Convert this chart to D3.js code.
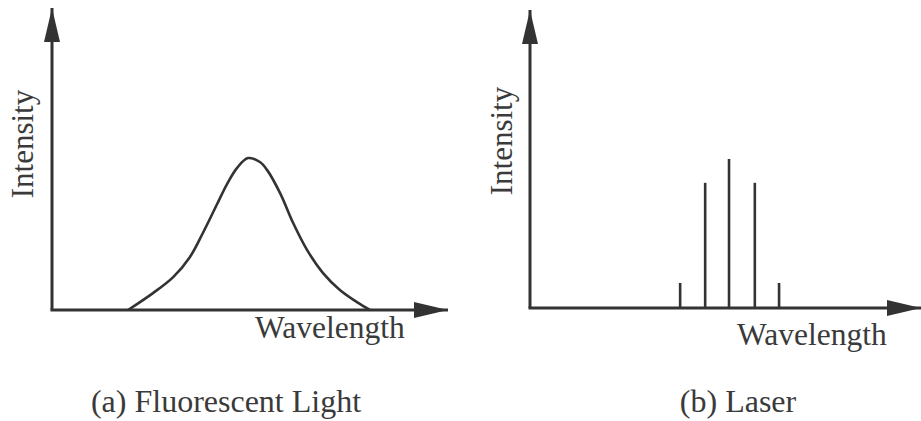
<!DOCTYPE html>
<html><head><meta charset="UTF-8"><script src="https://d3js.org/d3.v7.min.js"></script></head>
<body style="margin:0">
<svg width="921" height="421"></svg>
<script>
    // (a) fluorescent spectrum: wavelength / intensity, arbitrary units 0-100
    const fluoWave = [19.2, 25.5, 30.6, 34.8, 38.1, 41.7, 44.2, 46.7, 49.5, 52.5, 54.3, 57.6, 60.9, 64.4, 68.4, 72.7, 77.0, 80.3];
    const fluoInt  = [0, 5.6, 10.9, 17.5, 25.5, 35.1, 41.7, 47.0, 50.3, 49.0, 46.4, 38.7, 28.8, 19.9, 12.3, 6.6, 2.6, 0];

    // (b) laser modes
    const laserWave = [38.4, 44.8, 50.9, 57.5, 63.7];
    const laserInt  = [8.4, 42, 50, 42, 8.4];

    const axisLabelX = "Wavelength";
    const axisLabelY = "Intensity";
    const captions = ["(a) Fluorescent Light", "(b) Laser"];

    const svg = d3.select("svg");
    const ink = "#333";

    const labels = [
      { t: axisLabelY, x: 33, y: 144, rot: true, anchor: "middle", size: 31 },
      { t: axisLabelX, x: 255, y: 338, rot: false, anchor: "start", size: 31.5 },
      { t: captions[0], x: 226, y: 412, rot: false, anchor: "middle", size: 32 },
      { t: axisLabelY, x: 512, y: 141, rot: true, anchor: "middle", size: 31 },
      { t: axisLabelX, x: 737, y: 345, rot: false, anchor: "start", size: 31.5 },
      { t: captions[1], x: 738, y: 412, rot: false, anchor: "middle", size: 32 }
    ];
    svg.selectAll("text").data(labels).join("text")
      .attr("transform", d => d.rot ? `translate(${d.x},${d.y}) rotate(-90)` : `translate(${d.x},${d.y})`)
      .attr("text-anchor", d => d.anchor)
      .attr("font-size", d => d.size)
      .attr("fill", "#3a3a3a")
      .style("font-family", `"Liberation Serif", monospace`)
      .text(d => d.t);

    const defs = svg.append("defs");
    defs.append("marker")
      .attr("id", "arrow")
      .attr("markerUnits", "userSpaceOnUse")
      .attr("viewBox", "0 0 34 16")
      .attr("markerWidth", 34).attr("markerHeight", 16)
      .attr("refX", 34).attr("refY", 8)
      .attr("orient", "auto")
      .append("path")
      .attr("d", "M0,0 L34,8 L0,16 Z")
      .attr("fill", ink);

    function panel(xRange, yRange) {
      const x = d3.scaleLinear().domain([0, 100]).range(xRange);
      const y = d3.scaleLinear().domain([0, 100]).range(yRange);
      const g = svg.append("g");

      // axes with arrows
      g.append("line")
        .attr("x1", x(0)).attr("y1", y(0)).attr("x2", x(0)).attr("y2", y(100))
        .attr("stroke", ink).attr("stroke-width", 3).attr("marker-end", "url(#arrow)");
      g.append("line")
        .attr("x1", x(0) - 1.5).attr("y1", y(0)).attr("x2", x(100)).attr("y2", y(0))
        .attr("stroke", ink).attr("stroke-width", 3).attr("marker-end", "url(#arrow)");

      return { g, x, y };
    }

    // left panel
    const a = panel([52, 448], [310, 8]);
    const fluo = fluoWave.map((w, i) => [w, fluoInt[i]]);
    a.g.append("path")
      .datum(fluo)
      .attr("fill", "none")
      .attr("stroke", ink)
      .attr("stroke-width", 2.6)
      .attr("d", d3.line().x(d => a.x(d[0])).y(d => a.y(d[1])).curve(d3.curveCatmullRom.alpha(0.5)));

    // right panel
    const b = panel([530, 921], [308, 10]);
    b.g.selectAll("line.mode")
      .data(laserWave.map((w, i) => [w, laserInt[i]]))
      .join("line")
      .attr("class", "mode")
      .attr("x1", d => b.x(d[0])).attr("x2", d => b.x(d[0]))
      .attr("y1", b.y(0)).attr("y2", d => b.y(d[1]))
      .attr("stroke", ink)
      .attr("stroke-width", 2.6);
</script></body></html>
